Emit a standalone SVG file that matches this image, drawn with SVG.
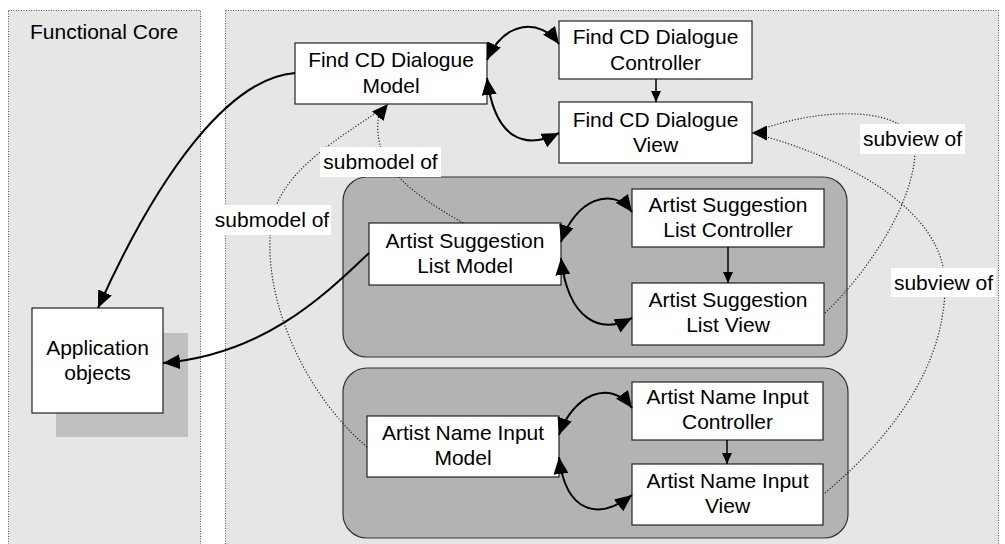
<svg xmlns="http://www.w3.org/2000/svg" width="1005" height="544" viewBox="0 0 1005 544">
<style>
  .panel { fill: #e6e6e6; stroke: #555; stroke-width: 1; stroke-dasharray: 1 1.5; }
  .group { fill: #b3b3b3; stroke: #333; stroke-width: 1.2; }
  .box { fill: #ffffff; stroke: #222; stroke-width: 1.2; }
  .lbl { fill: #ffffff; stroke: none; }
  text { font-family: "Liberation Sans", Arial, Helvetica, sans-serif; font-size: 21px; fill: #000; }
  .c { text-anchor: middle; }
  .solid { fill: none; stroke: #000; stroke-width: 2; }
  .dot { fill: none; stroke: #222; stroke-width: 1.2; stroke-dasharray: 1.2 1.8; }
  .thin { fill: none; stroke: #000; stroke-width: 1.5; }
</style>
<defs>
  <marker id="ah" markerUnits="userSpaceOnUse" markerWidth="18" markerHeight="15" refX="17" refY="7.5" orient="auto-start-reverse">
    <path d="M0,0 L17,7.5 L0,15 z" fill="#000"/>
  </marker>
  <marker id="ahs" markerUnits="userSpaceOnUse" markerWidth="12" markerHeight="10" refX="11" refY="5" orient="auto">
    <path d="M0,0 L11,5 L0,10 z" fill="#000"/>
  </marker>
  <marker id="dhLeft" markerUnits="userSpaceOnUse" markerWidth="16" markerHeight="15" refX="15" refY="7.5" orient="180">
    <path d="M0,0 L15,7.5 L0,15 z" fill="#000"/>
  </marker>
  <marker id="dhUp" markerUnits="userSpaceOnUse" markerWidth="17" markerHeight="15" refX="16" refY="7.5" orient="-50">
    <path d="M0,0 L16,7.5 L0,15 z" fill="#000"/>
  </marker>
</defs>

<g id="panels">
  <rect class="panel" x="8.5" y="10.5" width="192" height="560"/>
  <rect class="panel" x="225.5" y="10.5" width="773" height="560"/>
  <text x="30" y="39">Functional Core</text>
</g>

<g id="group-suggestion">
  <rect class="group" x="343" y="177" width="504" height="180" rx="24"/>
</g>
<g id="group-nameinput">
  <rect class="group" x="343" y="368" width="505" height="170" rx="24"/>
</g>

<g id="app-objects">
  <rect x="56" y="333" width="132" height="104" fill="#c0c0c0"/>
  <rect class="box" x="32" y="308" width="131" height="105"/>
  <text class="c" x="97.5" y="355">Application</text>
  <text class="c" x="97.5" y="380">objects</text>
</g>

<g id="fcd-model">
  <rect class="box" x="295" y="43" width="192" height="61"/>
  <text class="c" x="391" y="67">Find CD Dialogue</text>
  <text class="c" x="391" y="93">Model</text>
</g>
<g id="fcd-controller">
  <rect class="box" x="559" y="21" width="193" height="58"/>
  <text class="c" x="655.5" y="44">Find CD Dialogue</text>
  <text class="c" x="655.5" y="70">Controller</text>
</g>
<g id="fcd-view">
  <rect class="box" x="559" y="102" width="193" height="61"/>
  <text class="c" x="655.5" y="127">Find CD Dialogue</text>
  <text class="c" x="655.5" y="152">View</text>
</g>

<g id="asl-model">
  <rect class="box" x="369" y="223" width="192" height="62"/>
  <text class="c" x="465" y="248">Artist Suggestion</text>
  <text class="c" x="465" y="273">List Model</text>
</g>
<g id="asl-controller">
  <rect class="box" x="632" y="189" width="192" height="58"/>
  <text class="c" x="728" y="212">Artist Suggestion</text>
  <text class="c" x="728" y="237">List Controller</text>
</g>
<g id="asl-view">
  <rect class="box" x="632" y="283" width="192" height="62"/>
  <text class="c" x="728" y="307">Artist Suggestion</text>
  <text class="c" x="728" y="332">List View</text>
</g>

<g id="ani-model">
  <rect class="box" x="367" y="416" width="192" height="61"/>
  <text class="c" x="463" y="440">Artist Name Input</text>
  <text class="c" x="463" y="465">Model</text>
</g>
<g id="ani-controller">
  <rect class="box" x="632" y="382" width="191" height="58"/>
  <text class="c" x="727.5" y="404">Artist Name Input</text>
  <text class="c" x="727.5" y="429">Controller</text>
</g>
<g id="ani-view">
  <rect class="box" x="632" y="464" width="191" height="61"/>
  <text class="c" x="727.5" y="488">Artist Name Input</text>
  <text class="c" x="727.5" y="513">View</text>
</g>

<g id="connectors">
  <!-- solid -->
  <path class="solid" marker-end="url(#ah)" d="M295,73 C230,78 160,170 98,308"/>
  <path class="solid" marker-end="url(#ah)" d="M369,253 C320,300 260,355 163,363"/>
  <path class="solid" marker-start="url(#ah)" marker-end="url(#ah)" d="M487,60 C505,20 540,18 559,44"/>
  <path class="solid" marker-start="url(#ah)" marker-end="url(#ah)" d="M487,78 C495,140 525,150 559,133"/>
  <path class="solid" marker-start="url(#ah)" marker-end="url(#ah)" d="M561,242 C575,200 612,185 632,212"/>
  <path class="solid" marker-start="url(#ah)" marker-end="url(#ah)" d="M561,258 C568,320 600,335 632,318"/>
  <path class="solid" marker-start="url(#ah)" marker-end="url(#ah)" d="M559,435 C573,395 610,378 632,408"/>
  <path class="solid" marker-start="url(#ah)" marker-end="url(#ah)" d="M559,457 C566,515 600,520 632,495"/>
  <path class="thin" marker-end="url(#ahs)" d="M656,79 L656,102"/>
  <path class="thin" marker-end="url(#ahs)" d="M728,247 L728,283"/>
  <path class="thin" marker-end="url(#ahs)" d="M727,440 L727,464"/>
  <!-- dotted -->
  <path class="dot" d="M463,223 C410,192 370,165 379,113"/>
  <path class="dot" marker-end="url(#dhUp)" d="M367,447 C300,390 260,290 272,220 C282,165 355,130 388,104"/>
  <path class="dot" marker-end="url(#dhLeft)" d="M825,313 C870,270 915,200 915,150 C915,105 820,105 752,133"/>
  <path class="dot" d="M825,493 C900,430 945,360 945,285 C945,200 820,150 752,133"/>
  <!-- labels -->
  <rect class="lbl" x="320" y="147" width="121" height="30"/>
  <text x="380.5" y="169" class="c">submodel of</text>
  <rect class="lbl" x="213" y="205" width="118" height="30"/>
  <text x="272" y="227" class="c">submodel of</text>
  <rect class="lbl" x="860" y="124" width="105" height="30"/>
  <text x="912.5" y="146" class="c">subview of</text>
  <rect class="lbl" x="891" y="268" width="105" height="29"/>
  <text x="943.5" y="290" class="c">subview of</text>
</g>
</svg>
